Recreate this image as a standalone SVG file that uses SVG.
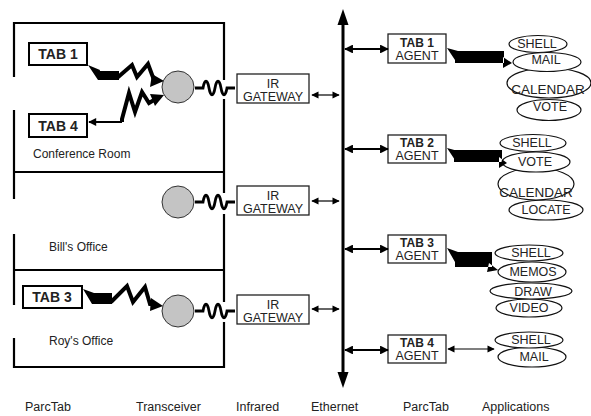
<svg xmlns="http://www.w3.org/2000/svg" width="591" height="416" viewBox="0 0 591 416">
<defs>
<style>
text{font-family:"Liberation Sans",Arial,sans-serif;fill:#222}
.wall{stroke:#000;stroke-width:2.2;fill:none}
.tab{fill:#fff;stroke:#000;stroke-width:2}
.tabt{font-size:14px;font-weight:bold;text-anchor:middle}
.box{fill:#fff;stroke:#222;stroke-width:1.3}
.bt{font-size:12.5px;text-anchor:middle}
.bb{font-size:12px;font-weight:bold;text-anchor:middle}
.room{font-size:12px}
.cap{font-size:12.5px}
.xcv{fill:#c4c4c4;stroke:#333;stroke-width:1}
.wave{fill:none;stroke:#000;stroke-width:2.8}
.bolt{fill:none;stroke:#000;stroke-width:4;stroke-linejoin:miter}
.app{fill:#fff;stroke:#111;stroke-width:1.2}
.at{font-size:12.5px;text-anchor:middle}
.cal{font-size:13.5px;text-anchor:middle}
</style>
<marker id="ah" viewBox="0 0 10 10" refX="9" refY="5" markerWidth="4" markerHeight="4" orient="auto-start-reverse" markerUnits="strokeWidth"><path d="M0,0L10,5L0,10z" fill="#000"/></marker>
<marker id="ahs" viewBox="0 0 10 10" refX="9" refY="5" markerWidth="7" markerHeight="6" orient="auto-start-reverse" markerUnits="strokeWidth"><path d="M0,0L10,5L0,10z" fill="#000"/></marker>
<marker id="ahb" viewBox="0 0 10 10" refX="9" refY="5" markerWidth="5" markerHeight="4" orient="auto-start-reverse" markerUnits="strokeWidth"><path d="M0,0L10,5L0,10z" fill="#000"/></marker>
</defs>

<g id="building">
<path class="wall" d="M14,23H224M14,172H224M14,270H224M14,367H224"/>
<path class="wall" d="M14,22V77M14,110V199M14,234V305M14,338V368"/>
<path class="wall" d="M224,22V80M224,99V193M224,214V302M224,322V368"/>
<text class="room" x="33" y="158">Conference Room</text>
<text class="room" x="49" y="251">Bill's Office</text>
<text class="room" x="49" y="345">Roy's Office</text>
</g>

<g id="tab1"><rect class="tab" x="29" y="43" width="58" height="22"/><text class="tabt" x="58" y="59">TAB 1</text></g>
<g id="tab4"><rect class="tab" x="29" y="114" width="58" height="23"/><text class="tabt" x="58" y="131">TAB 4</text></g>
<g id="tab3"><rect class="tab" x="23" y="286" width="59" height="22"/><text class="tabt" x="52" y="302">TAB 3</text></g>

<g id="xcv1"><circle class="xcv" cx="178" cy="87" r="16"/></g>
<g id="xcv2"><circle class="xcv" cx="178" cy="202" r="16"/></g>
<g id="xcv3"><circle class="xcv" cx="178" cy="311" r="16"/></g>

<g id="gw1"><rect class="box" x="237" y="74" width="72" height="29"/><text class="bt" x="273" y="88">IR</text><text class="bt" x="273" y="101">GATEWAY</text></g>
<g id="gw2"><rect class="box" x="237" y="186" width="72" height="29"/><text class="bt" x="273" y="200">IR</text><text class="bt" x="273" y="213">GATEWAY</text></g>
<g id="gw3"><rect class="box" x="237" y="295" width="72" height="29"/><text class="bt" x="273" y="309">IR</text><text class="bt" x="273" y="322">GATEWAY</text></g>

<g id="ag1"><rect class="box" x="388" y="34" width="58" height="29"/><text class="bb" x="417" y="47">TAB 1</text><text class="bt" x="417" y="60">AGENT</text></g>
<g id="ag2"><rect class="box" x="388" y="135" width="58" height="28"/><text class="bb" x="417" y="147">TAB 2</text><text class="bt" x="417" y="160">AGENT</text></g>
<g id="ag3"><rect class="box" x="388" y="235" width="58" height="28"/><text class="bb" x="417" y="247">TAB 3</text><text class="bt" x="417" y="260">AGENT</text></g>
<g id="ag4"><rect class="box" x="388" y="335" width="58" height="28"/><text class="bb" x="417" y="347">TAB 4</text><text class="bt" x="417" y="360">AGENT</text></g>

<g id="apps1">
<ellipse class="app" cx="549" cy="110" rx="32" ry="10.5"/><text class="at" x="550" y="111">VOTE</text>
<ellipse class="app" cx="549" cy="83" rx="42" ry="15"/><text class="cal" x="548" y="94">CALENDAR</text>
<ellipse class="app" cx="547" cy="62" rx="34" ry="9.5"/><text class="at" x="546" y="64">MAIL</text>
<ellipse class="app" cx="538" cy="44" rx="29" ry="8.5"/><text class="at" x="537" y="48">SHELL</text>
</g>
<g id="apps2">
<ellipse class="app" cx="546" cy="210" rx="37" ry="10"/><text class="at" x="546" y="214">LOCATE</text>
<ellipse class="app" cx="536" cy="184" rx="38" ry="16"/><text class="cal" x="536" y="197">CALENDAR</text>
<ellipse class="app" cx="536" cy="162" rx="34" ry="10"/><text class="at" x="535" y="166">VOTE</text>
<ellipse class="app" cx="533" cy="143" rx="33" ry="8.5"/><text class="at" x="532" y="147">SHELL</text>
</g>
<g id="apps3">
<ellipse class="app" cx="529" cy="308" rx="33" ry="9"/><text class="at" x="529" y="312">VIDEO</text>
<ellipse class="app" cx="531" cy="291" rx="41" ry="8"/><text class="at" x="533" y="296">DRAW</text>
<ellipse class="app" cx="532" cy="272" rx="34" ry="10"/><text class="at" x="533" y="276">MEMOS</text>
<ellipse class="app" cx="529" cy="253" rx="34" ry="8"/><text class="at" x="531" y="257">SHELL</text>
</g>
<g id="apps4">
<ellipse class="app" cx="532" cy="357" rx="34" ry="10"/><text class="at" x="534" y="361">MAIL</text>
<ellipse class="app" cx="529" cy="340" rx="34" ry="8"/><text class="at" x="531" y="344">SHELL</text>
</g>

<g id="connectors">
<line x1="343" y1="25" x2="343" y2="372" stroke="#000" stroke-width="3"/>
<path d="M343,9L337.5,25H348.5z M343,388L337.5,372H348.5z" fill="#000"/>
<line x1="312" y1="95" x2="339" y2="95" stroke="#000" stroke-width="1.2" marker-start="url(#ahs)" marker-end="url(#ahs)"/>
<line x1="312" y1="201" x2="339" y2="201" stroke="#000" stroke-width="1.2" marker-start="url(#ahs)" marker-end="url(#ahs)"/>
<line x1="312" y1="309" x2="339" y2="309" stroke="#000" stroke-width="1.2" marker-start="url(#ahs)" marker-end="url(#ahs)"/>
<line x1="345" y1="49" x2="388" y2="49" stroke="#000" stroke-width="2.2" marker-start="url(#ah)" marker-end="url(#ah)"/>
<line x1="345" y1="149" x2="388" y2="149" stroke="#000" stroke-width="2.2" marker-start="url(#ah)" marker-end="url(#ah)"/>
<line x1="345" y1="249" x2="388" y2="249" stroke="#000" stroke-width="2.2" marker-start="url(#ah)" marker-end="url(#ah)"/>
<line x1="345" y1="350" x2="388" y2="350" stroke="#000" stroke-width="2.2" marker-start="url(#ah)" marker-end="url(#ah)"/>
<path d="M447,48L458,51L455,60z M455,51H504V63H455z M512,63L503,57L503,68z" fill="#000"/>
<path d="M447,148L458,151L455,160z M454,150H502V162H454z M507,163L499,157L499,168z" fill="#000"/>
<path d="M447,248L458,252L455,262z M455,252H492V267H455z M498,270L489,263L487,272z" fill="#000"/>
<line x1="448" y1="349" x2="494" y2="349" stroke="#000" stroke-width="1.2" marker-start="url(#ahs)" marker-end="url(#ahs)"/>
<path class="wave" d="M195,88h8c1.5,-9 4.5,-9 6,0s4.5,9 6,0s4.5,-9 6,0s4.5,9 6,0h8"/>
<path class="wave" d="M195,202h8c1.5,-9 4.5,-9 6,0s4.5,9 6,0s4.5,-9 6,0s4.5,9 6,0h8"/>
<path class="wave" d="M195,311h8c1.5,-9 4.5,-9 6,0s4.5,9 6,0s4.5,-9 6,0s4.5,9 6,0h8"/>
<path d="M88,65L100,70L98,80z M98,71H119V80H98z M164,81L152,74L150,87z" fill="#000"/>
<polyline class="bolt" points="117,78 132,65 137,77 148,64 154,80 156,80"/>
<path d="M164,95L150,94L155,106z" fill="#000"/>
<polyline class="bolt" points="154,100 149,103 142,92 135,112 129,93 122,119 122,122"/>
<line x1="122" y1="122" x2="89" y2="122" stroke="#000" stroke-width="2" marker-end="url(#ahb)"/>
<path d="M83,289L94,293L92,304z M92,293H112V304H92z M163,306L151,298L150,311z" fill="#000"/>
<polyline class="bolt" points="111,302 127,286 133,302 145,287 150,304 154,304"/>
</g>

<g id="captions">
<text class="cap" x="25" y="411">ParcTab</text>
<text class="cap" x="136" y="411">Transceiver</text>
<text class="cap" x="236" y="411">Infrared</text>
<text class="cap" x="311" y="411">Ethernet</text>
<text class="cap" x="403" y="411">ParcTab</text>
<text class="cap" x="482" y="411">Applications</text>
</g>
</svg>
